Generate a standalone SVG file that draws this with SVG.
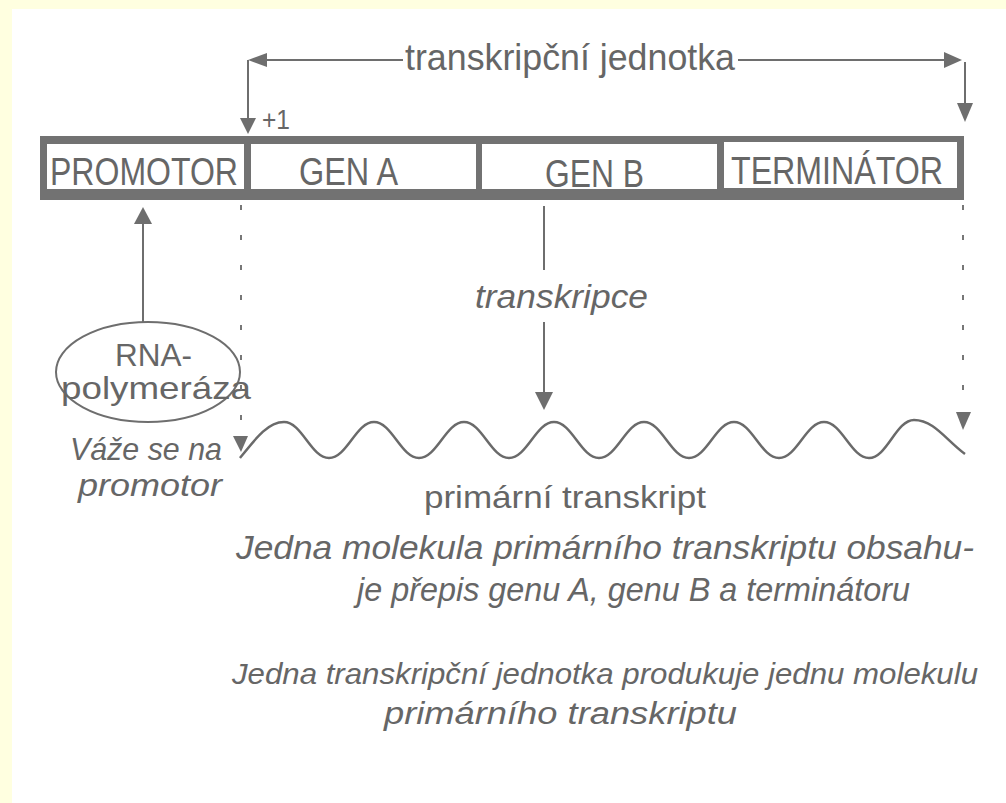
<svg xmlns="http://www.w3.org/2000/svg" width="1006" height="803" viewBox="0 0 1006 803">
<style>
.t{font-family:"Liberation Sans",Arial,sans-serif;fill:#666666}
.i{font-style:italic}
.ln{stroke:#6e6e6e;stroke-width:2;fill:none}
.wave{stroke:#6a6a6a;stroke-width:2.5;fill:none}
.dot{stroke:#777;stroke-width:2;stroke-dasharray:5 25;fill:none}
.ah{fill:#6e6e6e}
</style>
<rect x="0" y="0" width="1006" height="803" fill="#ffffe0"/>
<rect x="12" y="9" width="994" height="794" fill="#ffffff"/>

<g id="transcription-unit-label">
<text class="t" x="405" y="70" font-size="37" textLength="330" lengthAdjust="spacingAndGlyphs">transkripční jednotka</text>
<text class="t" x="262" y="129" font-size="27" textLength="28" lengthAdjust="spacingAndGlyphs">+1</text>
</g>

<g id="dna-bar">
<rect x="40" y="136" width="924" height="64" fill="#727272"/>
<g id="promotor">
<rect x="47" y="144" width="197" height="45" fill="#fff"/>
<text class="t" x="50" y="185" font-size="38" textLength="188" lengthAdjust="spacingAndGlyphs">PROMOTOR</text>
</g>
<g id="gen-a">
<rect x="251" y="144" width="225" height="45" fill="#fff"/>
<text class="t" x="299" y="185" font-size="38" textLength="99" lengthAdjust="spacingAndGlyphs">GEN A</text>
</g>
<g id="gen-b">
<rect x="482" y="144" width="235" height="45" fill="#fff"/>
<text class="t" x="545" y="187" font-size="38" textLength="99" lengthAdjust="spacingAndGlyphs">GEN B</text>
</g>
<g id="terminator">
<rect x="724" y="142" width="233" height="46" fill="#fff"/>
<text class="t" x="731" y="184" font-size="38" textLength="212" lengthAdjust="spacingAndGlyphs">TERMINÁTOR</text>
</g>
</g>

<g id="rna-polymeraza">
<ellipse cx="148" cy="372" rx="92" ry="50" class="ln"/>
<text class="t" x="115" y="366" font-size="32" textLength="77" lengthAdjust="spacingAndGlyphs">RNA-</text>
<text class="t" x="61" y="399" font-size="32" textLength="190" lengthAdjust="spacingAndGlyphs">polymeráza</text>
</g>

<g id="vaze-label">
<text class="t i" x="70" y="460" font-size="32" textLength="152" lengthAdjust="spacingAndGlyphs">Váže se na</text>
<text class="t i" x="78" y="496" font-size="32" textLength="144" lengthAdjust="spacingAndGlyphs">promotor</text>
</g>

<g id="transkripce-label">
<text class="t i" x="475" y="308" font-size="34" textLength="173" lengthAdjust="spacingAndGlyphs">transkripce</text>
</g>

<g id="primary-transcript">
<path class="wave" d="M240,458 C256,438 268,422 284,422 c18,0 27,36 45,36 s27,-36 45,-36 s27,36 45,36 s27,-36 45,-36 s27,36 45,36 s27,-36 45,-36 s27,36 45,36 s27,-36 45,-36 s27,36 45,36 s27,-36 45,-36 s27,36 45,36 s27,-36 45,-36 s27,36 45,36 s27,-38 45,-38 c20,0 32,20 51,34"/>
<text class="t" x="424" y="508" font-size="32" textLength="282" lengthAdjust="spacingAndGlyphs">primární transkript</text>
</g>

<g id="notes">
<text class="t i" x="236" y="559" font-size="33" textLength="738" lengthAdjust="spacingAndGlyphs">Jedna molekula primárního transkriptu obsahu-</text>
<text class="t i" x="357" y="601" font-size="33" textLength="553" lengthAdjust="spacingAndGlyphs">je přepis genu A, genu B a terminátoru</text>
<text class="t i" x="232" y="684" font-size="30" textLength="746" lengthAdjust="spacingAndGlyphs">Jedna transkripční jednotka produkuje jednu molekulu</text>
<text class="t i" x="384" y="724" font-size="31" textLength="353" lengthAdjust="spacingAndGlyphs">primárního transkriptu</text>
</g>

<g id="connectors">
<line class="ln" x1="266" y1="60" x2="403" y2="60"/>
<line class="ln" x1="738" y1="60" x2="946" y2="60"/>
<polygon class="ah" points="248,60 267,53 267,67"/>
<polygon class="ah" points="962,60 944,52 944,68"/>
<line class="ln" x1="248" y1="60" x2="248" y2="120"/>
<polygon class="ah" points="240,118 256,118 248,134"/>
<line class="ln" x1="965" y1="62" x2="965" y2="104"/>
<polygon class="ah" points="957,103 973,103 965,122"/>
<line class="ln" x1="143" y1="222" x2="143" y2="322"/>
<polygon class="ah" points="134,224 152,224 143,207"/>
<line class="ln" x1="544" y1="206" x2="544" y2="270"/>
<line class="ln" x1="544" y1="322" x2="544" y2="394"/>
<polygon class="ah" points="535,392 553,392 544,410"/>
<line class="dot" x1="241" y1="205" x2="241" y2="432"/>
<polygon class="ah" points="233,436 248,436 241,452"/>
<line class="dot" x1="963" y1="205" x2="963" y2="410"/>
<polygon class="ah" points="956,412 971,412 963,430"/>
</g>
</svg>
